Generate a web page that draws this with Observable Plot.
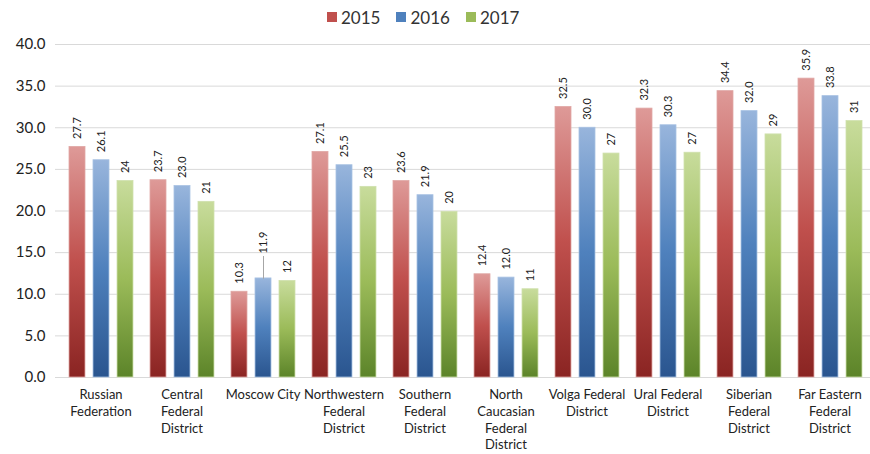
<!DOCTYPE html>
<html>
<head>
<meta charset="utf-8">
<script src="https://cdn.jsdelivr.net/npm/d3@7"></script>
<script src="https://cdn.jsdelivr.net/npm/@observablehq/plot@0.6"></script>
<style>
  body { margin: 0; background: #fff; font-family: Lato, "Liberation Sans", sans-serif; }
  #wrap { width: 870px; height: 454px; position: relative; }
  #legend { height: 34px; display: flex; align-items: center; padding-left: 327px; font-size: 17px; color: #333; }
  #legend .item { display: flex; align-items: center; margin-right: 16px; }
  #legend .sw { width: 10px; height: 10px; margin-right: 4px; }
</style>
</head>
<body>
<div id="wrap">
  <div id="legend"></div>
  <div id="chart"></div>
</div>
<script>
const categories = [
  "Russian\nFederation",
  "Central\nFederal\nDistrict",
  "Moscow City",
  "Northwestern\nFederal\nDistrict",
  "Southern\nFederal\nDistrict",
  "North\nCaucasian\nFederal\nDistrict",
  "Volga Federal\nDistrict",
  "Ural Federal\nDistrict",
  "Siberian\nFederal\nDistrict",
  "Far Eastern\nFederal\nDistrict"
];
const years = ["2015", "2016", "2017"];
const values2015 = [27.7, 23.7, 10.3, 27.1, 23.6, 12.4, 32.5, 32.3, 34.4, 35.9];
const values2016 = [26.1, 23.0, 11.9, 25.5, 21.9, 12.0, 30.0, 30.3, 32.0, 33.8];
const values2017 = [23.6, 21.1, 11.6, 22.9, 19.9, 10.6, 26.9, 27.0, 29.2, 30.8];
const yTicks = [0, 5, 10, 15, 20, 25, 30, 35, 40];

const series = [values2015, values2016, values2017];
const data = categories.flatMap((c, i) => years.map((yr, j) => ({category: c, year: yr, value: series[j][i]})));

const swatch = {"2015": "#c0504d", "2016": "#4f81bd", "2017": "#9bbb59"};
const grads = {
  "2015": ["#de9a98", "#c0504d", "#8a2422"],
  "2016": ["#98b5dc", "#4f81bd", "#2a558f"],
  "2017": ["#c8dc9c", "#9bbb59", "#5c8429"]
};
const strokes = {"2015": "#e0a8a6", "2016": "#a9c2e3", "2017": "#cfe0ad"};

const fmtLabel = d => d.year === "2017" ? d3.format(".0f")(d.value) : d3.format(".1f")(d.value);
const isLeader = d => d.category === "Moscow City" && d.year === "2016";

const legend = document.getElementById("legend");
for (const yr of years) {
  const it = document.createElement("div");
  it.className = "item";
  it.innerHTML = `<span class="sw" style="background:${swatch[yr]}"></span><span>${yr}</span>`;
  legend.appendChild(it);
}

const chart = Plot.plot({
  width: 870,
  height: 420,
  marginLeft: 59,
  marginRight: 0,
  marginTop: 10,
  marginBottom: 77,
  style: {fontFamily: "Lato, 'Liberation Sans', sans-serif", color: "#222", background: "#fff"},
  fx: {domain: categories, padding: 0, label: null},
  x: {domain: years, paddingInner: 1/3, paddingOuter: 0.354, axis: null},
  y: {domain: [0, 40], label: null},
  marks: [
    Plot.gridY(yTicks, {stroke: "#d9d9d9", strokeOpacity: 1}),
    Plot.axisY(yTicks, {tickFormat: d3.format(".1f"), tickSize: 5, tickPadding: 10, fontSize: 15, stroke: "#d9d9d9", label: null}),
    Plot.axisFx({anchor: "bottom", tickSize: 0, tickPadding: 10, fontSize: 13, lineHeight: 1.28, label: null, fill: "#222"}),
    Plot.ruleY([0], {stroke: "#d9d9d9"}),
    ...years.map(yr => Plot.barY(data.filter(d => d.year === yr), {
      fx: "category", x: "year", y: "value",
      fill: `url(#grad${yr})`, stroke: strokes[yr], strokeWidth: 0.8
    })),
    Plot.text(data.filter(d => !isLeader(d)), {
      fx: "category", x: "year", y: "value", text: fmtLabel,
      rotate: -90, textAnchor: "start", lineAnchor: "middle", dy: -8, fontSize: 11, fill: "#222"
    }),
    Plot.vector(data.filter(isLeader), {
      fx: "category", x: "year", y: "value", length: 22, anchor: "start", rotate: 0,
      stroke: "#a6a6a6", strokeWidth: 1,
      shape: {draw(context, l) { context.moveTo(0, 0); context.lineTo(0, -l); }}
    }),
    Plot.text(data.filter(isLeader), {
      fx: "category", x: "year", y: "value", text: fmtLabel,
      rotate: -90, textAnchor: "start", lineAnchor: "middle", dy: -25, fontSize: 11, fill: "#222"
    })
  ]
});

const defs = d3.select(chart).insert("defs", ":first-child");
for (const yr of years) {
  const g = defs.append("linearGradient").attr("id", `grad${yr}`).attr("x1", 0).attr("y1", 0).attr("x2", 0).attr("y2", 1);
  g.append("stop").attr("offset", "0%").attr("stop-color", grads[yr][0]);
  g.append("stop").attr("offset", "50%").attr("stop-color", grads[yr][1]);
  g.append("stop").attr("offset", "100%").attr("stop-color", grads[yr][2]);
}
document.getElementById("chart").appendChild(chart);
</script>
</body>
</html>
